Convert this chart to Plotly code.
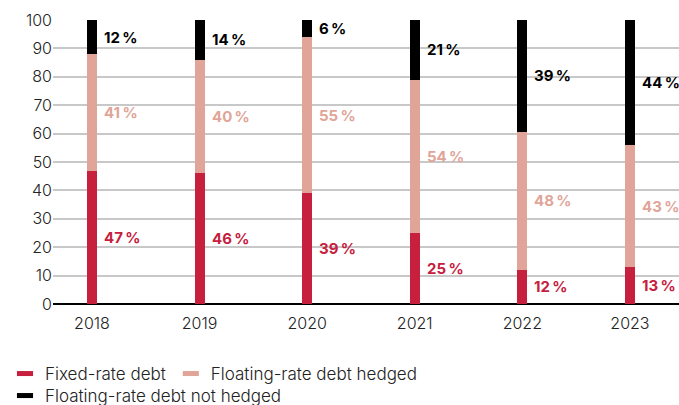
import plotly.graph_objects as go

years = ["2018", "2019", "2020", "2021", "2022", "2023"]
fixed = [47, 46, 39, 25, 12, 13]
hedged = [41, 40, 55, 54, 48.6, 43]
not_hedged = [12, 14, 6, 21, 39.4, 44]
fixed_lbl = [47, 46, 39, 25, 12, 13]
hedged_lbl = [41, 40, 55, 54, 48, 43]
not_hedged_lbl = [12, 14, 6, 21, 39, 44]

names = ["Fixed-rate debt", "Floating-rate debt hedged", "Floating-rate debt not hedged"]
colors = ["#C6203E", "#E0A598", "#000000"]
series = [fixed, hedged, not_hedged]
labels = [fixed_lbl, hedged_lbl, not_hedged_lbl]
legends = ["legend", "legend", "legend2"]

FONT = "Inter"
xpos = list(range(len(years)))

fig = go.Figure()
for vals, name, col in zip(series, names, colors):
    fig.add_trace(go.Bar(x=xpos, y=vals, name=name, marker_color=col,
                         marker_line_width=0, width=0.093, showlegend=False))
for name, col, lg in zip(names, colors, legends):
    fig.add_trace(go.Scatter(x=[None], y=[None], mode="markers", name=name, legend=lg,
                             marker=dict(symbol="line-ew-open", size=11.5, color=col,
                                         line=dict(width=5, color=col))))

# data labels at segment middles
for i in xpos:
    base = 0
    for vals, lbls, col in zip(series, labels, colors):
        mid = base + vals[i] / 2
        base += vals[i]
        fig.add_annotation(x=i, y=mid, text=f"<b>{lbls[i]}\u2009%</b>", showarrow=False,
                           xanchor="left", yanchor="middle", xshift=10,
                           font=dict(family=FONT, size=15, color=col))

tickfont = dict(family=FONT, size=16, color="#222222", weight=300)
legfont = dict(family=FONT, size=17, color="#222222", weight=300)
fig.update_layout(
    width=679, height=405,
    margin=dict(l=53, r=0, t=20, b=101),
    plot_bgcolor="white", paper_bgcolor="white",
    barmode="stack",
    font=dict(family=FONT, size=16, color="#222222"),
    xaxis=dict(range=[-0.362, 5.456], tickvals=xpos, ticktext=years, showgrid=False,
               showline=False, ticks="", zeroline=False, tickfont=tickfont,
               ticklabelstandoff=8),
    yaxis=dict(range=[0, 100], dtick=10, showgrid=True, gridcolor="#C8C8C8", gridwidth=1.5,
               zeroline=True, zerolinecolor="#000000", zerolinewidth=1.5,
               showline=False, ticks="", tickfont=tickfont),
    legend=dict(orientation="h", xref="container", yref="container", traceorder="normal",
                x=5 / 679, y=1 - 374 / 405, xanchor="left", yanchor="middle",
                font=legfont, bgcolor="rgba(0,0,0,0)"),
    legend2=dict(orientation="h", xref="container", yref="container",
                 x=5 / 679, y=1 - 396 / 405, xanchor="left", yanchor="middle",
                 font=legfont, bgcolor="rgba(0,0,0,0)"),
)

fig.write_html("out.html")
